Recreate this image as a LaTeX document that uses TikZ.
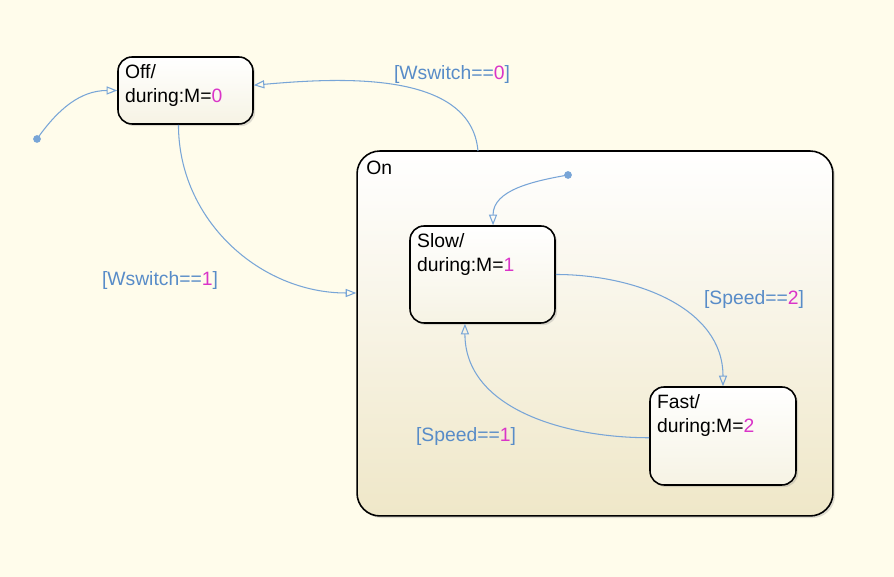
\documentclass[tikz,border=0pt]{standalone}
\usepackage{fontspec}
\setmainfont{Liberation Sans}
\usetikzlibrary{arrows.meta,shadows}
\definecolor{paper}{RGB}{255,252,235}
\definecolor{onbottom}{RGB}{239,231,200}
\definecolor{boxbottom}{RGB}{246,243,228}
\definecolor{trans}{RGB}{120,165,215}
\definecolor{guard}{RGB}{88,140,200}
\definecolor{val}{RGB}{218,52,200}

\begin{document}
\begin{tikzpicture}[x=0.02cm,y=0.02cm,
    font=\fontsize{11}{13.6}\selectfont,
    state/.style={draw=black,line width=0.9pt,rounded corners=8pt,
        top color=white,bottom color=boxbottom,
        drop shadow={opacity=0.25,shadow xshift=1.2pt,shadow yshift=-1.2pt}},
    statetext/.style={anchor=north west,align=left,inner xsep=4.3pt,inner ysep=4.3pt},
    edge/.style={draw=trans,line width=0.6pt,
        -{Triangle[open,length=6pt,width=4.6pt]}},
    guardtext/.style={text=guard,inner sep=1pt}]
    % background and page size
    \fill[paper] (0,0) rectangle (894,577);
    \useasboundingbox (0,0) rectangle (894,577);

    % superstate On
    \node[state,rounded corners=13pt,bottom color=onbottom,
        minimum width=9.52cm,minimum height=7.3cm] (on) at (595,243.5) {};
    \node[statetext,inner xsep=5.6pt,inner ysep=5.8pt] (ontxt) at (on.north west) {On};

    % states
    \node[state,minimum width=2.7cm,minimum height=1.34cm] (off) at (185.5,486.5) {};
    \node[statetext] (offtxt) at (off.north west) {Off/\\during:M=\textcolor{val}{0}};
    \node[state,minimum width=2.9cm,minimum height=1.94cm] (slow) at (482.5,302.5) {};
    \node[statetext] (slowtxt) at (slow.north west) {Slow/\\during:M=\textcolor{val}{1}};
    \node[state,minimum width=2.92cm,minimum height=1.96cm] (fast) at (723,141) {};
    \node[statetext] (fasttxt) at (fast.north west) {Fast/\\during:M=\textcolor{val}{2}};

    % default transitions
    \fill[trans] (37,438) circle (2.2pt) coordinate (init);
    \fill[trans] (568,402) circle (2.2pt) coordinate (oninit);
    \draw[edge] (init) to[out=55,in=180] (off.west);
    \draw[edge] (oninit) to[out=190,in=90] ([xshift=6pt]slow.north);

    % transitions
    \draw[edge] (478,426) to[out=95,in=5,looseness=0.9] ([yshift=3pt]off.east);
    \draw[edge] ([xshift=-4pt]off.south) to[out=-90,in=180] (on.west |- 0,284);
    \draw[edge] (slow.east) to[out=0,in=90] (fast.north);
    \draw[edge] ([yshift=-1pt]fast.west) to[out=180,in=-90] ([xshift=-10pt]slow.south);

    % guards
    \node[guardtext] (g0) at (452,502) {[Wswitch==\textcolor{val}{0}]};
    \node[guardtext] (g1) at (160,296) {[Wswitch==\textcolor{val}{1}]};
    \node[guardtext] (g2) at (754,277) {[Speed==\textcolor{val}{2}]};
    \node[guardtext] (g3) at (466,140) {[Speed==\textcolor{val}{1}]};
\end{tikzpicture}
\end{document}
